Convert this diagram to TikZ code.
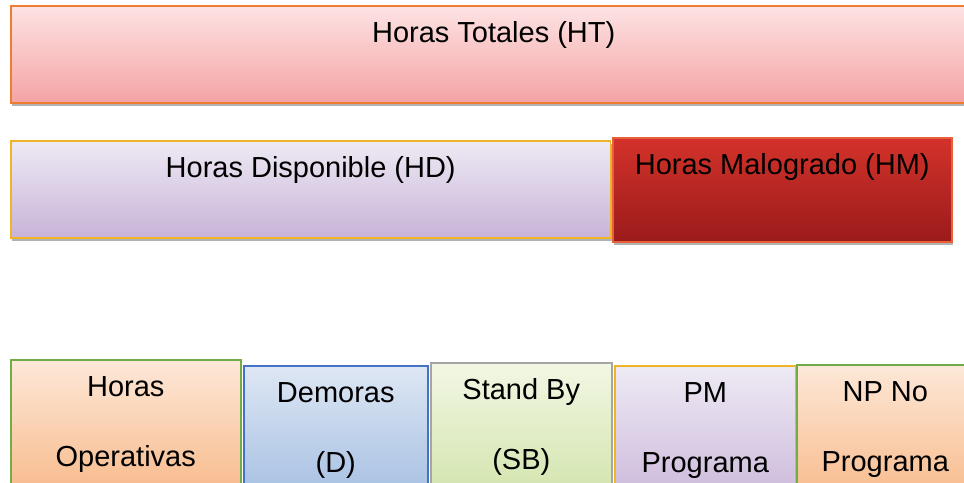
\documentclass[tikz,border=0pt]{standalone}
\usepackage{fontspec}
\setmainfont{Liberation Sans}
\usepackage{tikz}
\usetikzlibrary{shapes,shadows}
\definecolor{bordeNar}{HTML}{ED7D31}
\definecolor{bordeOro}{HTML}{F0B429}
\definecolor{bordeVer}{HTML}{70AD47}
\definecolor{bordeAzu}{HTML}{4472C4}
\definecolor{bordeGri}{HTML}{A5A5A5}
\definecolor{bordeRoj}{HTML}{E8603A}
\tikzstyle{block} = [rectangle, draw, line width=0.9pt, inner sep=0pt, anchor=north west,
    align=center, text height=0.74cm, font=\fontsize{16.5}{40}\selectfont,
    drop shadow={shadow xshift=0.6pt, shadow yshift=-1.6pt, opacity=0.3, fill=black}]
\tikzstyle{doble} = [minimum height=3cm, text height=2.14cm, text depth=0.86cm]
\tikzstyle{rosa} = [draw=bordeNar, top color={rgb,255:red,253;green,227;blue,228}, bottom color={rgb,255:red,244;green,163;blue,163}]
\tikzstyle{lila} = [draw=bordeOro, top color={rgb,255:red,238;green,234;blue,244}, bottom color={rgb,255:red,200;green,179;blue,216}]
\tikzstyle{rojo} = [draw=bordeRoj, top color={rgb,255:red,211;green,50;blue,42}, bottom color={rgb,255:red,155;green,27;blue,27}]
\tikzstyle{durazno} = [draw=bordeVer, top color={rgb,255:red,253;green,232;blue,216}, bottom color={rgb,255:red,247;green,181;blue,130}]
\tikzstyle{celeste} = [draw=bordeAzu, top color={rgb,255:red,222;green,231;blue,244}, bottom color={rgb,255:red,158;green,186;blue,224}]
\tikzstyle{verde} = [draw=bordeGri, top color={rgb,255:red,242;green,247;blue,228}, bottom color={rgb,255:red,206;green,226;blue,166}]

\begin{document}
\begin{tikzpicture}[x=0.02cm, y=-0.02cm]
    \useasboundingbox (0,0) rectangle (964,483);
    \clip (0,0) rectangle (964,483);
    % Fila superior
    \node [block, rosa, minimum width=19.32cm, minimum height=1.94cm, text depth=1.2cm] (ht) at (10,5) {Horas Totales (HT)};
    % Segunda fila
    \node [block, lila, minimum width=12cm, minimum height=1.94cm, text depth=1.2cm] (hd) at (10,140) {Horas Disponible (HD)};
    \node [block, rojo, minimum width=6.78cm, minimum height=2.08cm, text depth=1.34cm] (hm) at (612,137) {Horas Malogrado (HM)};
    % Fila inferior
    \node [block, doble, durazno, minimum width=4.6cm] (ho) at (10,359) {Horas\\Operativas};
    \node [block, doble, celeste, minimum width=3.68cm] (dem) at (243,365) {Demoras\\(D)};
    \node [block, doble, verde, minimum width=3.62cm] (sb) at (430,362) {Stand By\\(SB)};
    \node [block, doble, lila, minimum width=3.62cm] (pm) at (614,365) {PM\\Programa};
    \node [block, doble, durazno, minimum width=3.54cm] (np) at (796,364) {NP No\\Programa};
\end{tikzpicture}
\end{document}
